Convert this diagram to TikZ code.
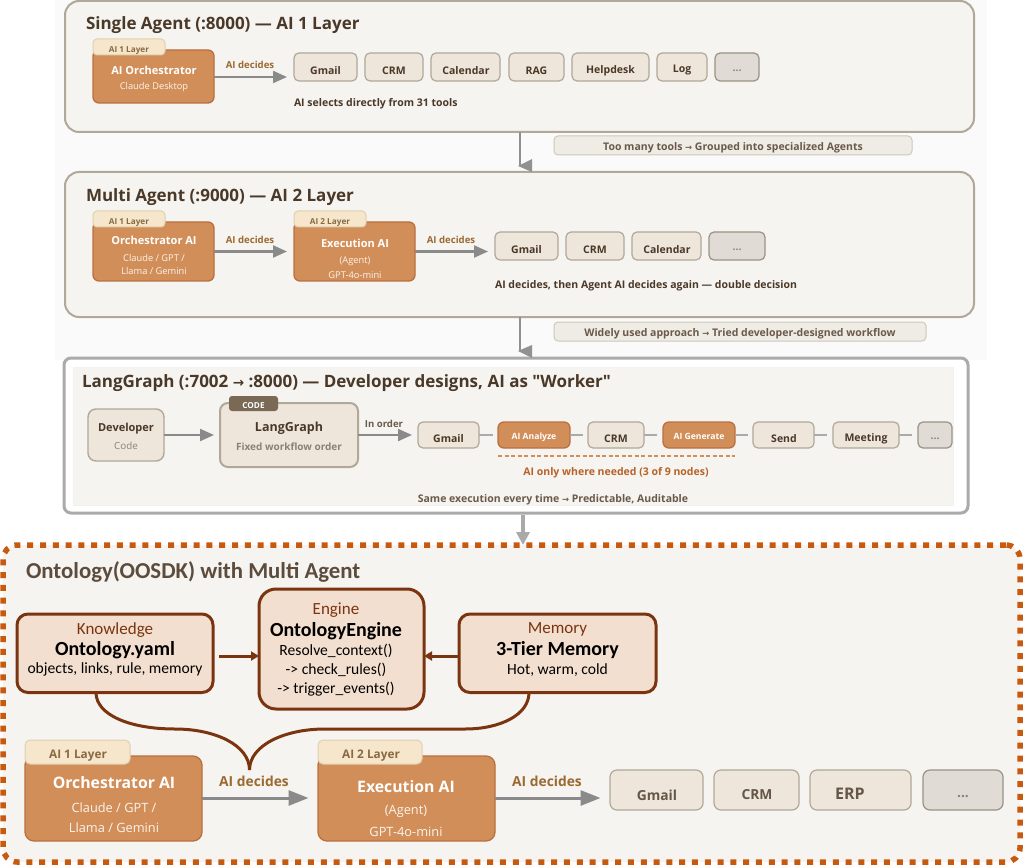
\documentclass[tikz,border=0pt]{standalone}
\usepackage{fontspec}
\setmainfont{Open Sans}
\newfontfamily\calfont{Carlito}
\newfontfamily\arrowfont{DejaVu Sans}
\newfontfamily\plainfont{Open Sans}
\newcommand{\arr}{\scalebox{.8}{\arrowfont\char"2192}}
\newcommand{\sq}{{\plainfont"}}
\usetikzlibrary{arrows.meta}
\definecolor{panel}{HTML}{F6F4F0}
\definecolor{panelb}{HTML}{B0A898}
\definecolor{orange}{HTML}{D28E58}
\definecolor{orangeb}{HTML}{B87040}
\definecolor{tabf}{HTML}{F5E6CC}
\definecolor{tabb}{HTML}{E0D0B0}
\definecolor{tabt}{HTML}{8A6A40}
\definecolor{tool}{HTML}{EEE6DA}
\definecolor{more}{HTML}{E0DBD4}
\definecolor{moreb}{HTML}{9A9284}
\definecolor{dark}{HTML}{4A3828}
\definecolor{arrowc}{HTML}{8A8A8A}
\definecolor{decide}{HTML}{9A6A30}
\definecolor{pill}{HTML}{EFEBE5}
\definecolor{pillb}{HTML}{D0C8B8}
\definecolor{pillt}{HTML}{6A5A4A}
\definecolor{brown}{HTML}{7A3510}
\definecolor{peach}{HTML}{F3DFCF}
\definecolor{dots}{HTML}{C85A10}
\definecolor{lgb}{HTML}{AAAAAA}
\definecolor{codef}{HTML}{7A6A55}
\definecolor{grayt}{HTML}{8A8278}
\definecolor{rust}{HTML}{B8622A}
\newcommand{\bx}[7][]{% name x1 y1 x2 y2 style
  \node[#6,minimum width=#4-#2,minimum height=#5-#3,#1] (#7) at ({(#2+#4)/2},{(#3+#5)/2}) {};}
\tikzset{
  x=1pt,y=-1pt,
  every node/.style={inner sep=0pt,outer sep=0pt,align=center},
  panelbox/.style={draw=panelb,fill=panel,line width=2pt,rounded corners=14pt},
  aibox/.style={draw=orangeb,fill=orange,line width=1.3pt,rounded corners=6pt},
  tabbox/.style={draw=tabb,fill=tabf,line width=1pt,rounded corners=4pt},
  toolbox/.style={draw=panelb,fill=tool,line width=1.2pt,rounded corners=5pt},
  morebox/.style={draw=moreb,fill=more,line width=1.2pt,rounded corners=5pt},
  pillbox/.style={draw=pillb,fill=pill,line width=1pt,rounded corners=4pt},
  peachbox/.style={draw=brown,fill=peach,line width=3pt,rounded corners=11pt},
  flow/.style={draw=arrowc,line width=2.2pt,-{Triangle[length=14pt,width=12pt]},shorten >=7pt},
  flowb/.style={draw=arrowc,line width=3pt,-{Triangle[length=20pt,width=15pt]},shorten >=9.5pt},
  down/.style={draw=lgb!85!black,line width=2pt},
  link/.style={draw=lgb,line width=1.2pt},
  brownarr/.style={draw=brown,line width=3pt,-{Triangle[length=8pt,width=9pt]}},
  brownc/.style={draw=brown,line width=3pt},
  tx/.style={yshift=-1.4pt},
  t/.style={tx,font=\bfseries\fontsize{10.5}{12}\selectfont,text=dark},
  dec/.style={tx,font=\bfseries\fontsize{9.6}{11}\selectfont,text=decide},
  tb/.style={tx,font=\bfseries\fontsize{8.2}{9}\selectfont,text=tabt},
  wh/.style={tx,font=\bfseries\fontsize{11}{12}\selectfont,text=white},
  ws/.style={tx,font=\fontsize{9.3}{11}\selectfont,text=white!90!orange},
  title/.style={font=\bfseries\fontsize{17}{19}\selectfont,text=dark,anchor=west,yshift=-2pt},
  pt/.style={tx,font=\bfseries\fontsize{10.5}{12}\selectfont,text=pillt},
  kt/.style={tx,font=\calfont\fontsize{17}{20}\selectfont,text=brown},
  kb/.style={tx,font=\calfont\bfseries\fontsize{20}{23}\selectfont,text=black},
  ks/.style={tx,font=\calfont\fontsize{15.6}{19}\selectfont,text=black},
  wh2/.style={tx,font=\bfseries\fontsize{15.8}{17}\selectfont,text=white},
  ws2/.style={tx,font=\fontsize{12.8}{15}\selectfont,text=white!90!orange},
  tb2/.style={tx,font=\bfseries\fontsize{11.8}{13}\selectfont,text=tabt},
  dec2/.style={tx,font=\bfseries\fontsize{13.8}{15}\selectfont,text=decide},
  t2/.style={tx,font=\bfseries\fontsize{13.8}{15}\selectfont,text=dark!85!white},
}
\begin{document}
\begin{tikzpicture}
\useasboundingbox (0,0) rectangle (1024,866);
\fill[white] (0,0) rectangle (1024,866);
\fill[black!2] (55,0) rectangle (987,360);

% ---- panel 1
\bx{65}{1}{974}{132}{panelbox}{p1}
\node[title] (t1) at (86,23) {Single Agent (:8000) — AI 1 Layer};
\bx{93}{50}{214}{103}{aibox}{o1}
\bx{93}{39}{165}{55}{tabbox}{o1tab}
\node[tb] (o1tabt) at (129,49) {AI 1 Layer};
\node[wh] (o1a) at (154,69) {AI Orchestrator};
\node[ws] (o1b) at (154,85.5) {Claude Desktop};
\bx{294}{53}{357}{81}{toolbox}{a1}
\bx{365}{53}{423}{81}{toolbox}{a2}
\bx{431}{53}{500}{81}{toolbox}{a3}
\bx{509}{53}{564}{81}{toolbox}{a4}
\bx{572}{53}{649}{81}{toolbox}{a5}
\bx{657}{53}{707}{81}{toolbox}{a6}
\bx{715}{53}{759}{81}{morebox}{a7}
\node[t] at (325.5,69) {Gmail};
\node[t] at (394,69) {CRM};
\node[t] at (466,69) {Calendar};
\node[t] at (536.5,69) {RAG};
\node[t] at (610.5,69) {Helpdesk};
\node[t] at (682,69) {Log};
\node[t,text=grayt] at (737,69) {...};
\draw[flow] (o1.east|-0,77) -- (a1.west|-0,77);
\node[dec] at (250,64) {AI decides};
\node[t,anchor=west] at (294,102) {AI selects directly from 31 tools};

% ---- panel 2
\bx{65}{172}{974}{317}{panelbox}{p2}
\node[title] (t2) at (86,195) {Multi Agent (:9000) — AI 2 Layer};
\bx{93}{222}{214}{281}{aibox}{o2}
\bx{93}{211}{165}{227}{tabbox}{o2tab}
\node[tb] at (129,221) {AI 1 Layer};
\node[wh] at (154,239) {Orchestrator AI};
\node[ws] at (154,257) {Claude / GPT /};
\node[ws] at (154,270) {Llama / Gemini};
\bx{294}{222}{415}{281}{aibox}{e2}
\bx{294}{211}{366}{227}{tabbox}{e2tab}
\node[tb] at (330,221) {AI 2 Layer};
\node[wh] at (355,242) {Execution AI};
\node[ws] at (355,260) {(Agent)};
\node[ws] at (355,273.5) {GPT-4o-mini};
\bx{495}{232}{558}{260}{toolbox}{b1}
\bx{566}{232}{624}{260}{toolbox}{b2}
\bx{632}{232}{701}{260}{toolbox}{b3}
\bx{709}{232}{765}{260}{morebox}{b4}
\node[t] at (526.5,248) {Gmail};
\node[t] at (595,248) {CRM};
\node[t] at (667,248) {Calendar};
\node[t,text=grayt] at (737,248) {...};
\draw[flow] (o2.east|-0,251.5) -- (e2.west|-0,251.5);
\draw[flow] (e2.east|-0,251.5) -- (b1.west|-0,251.5);
\node[dec] at (250,239) {AI decides};
\node[dec] at (451,239) {AI decides};
\node[t,anchor=west] at (495,284) {AI decides, then Agent AI decides again — double decision};

% ---- pills
\bx{554}{136}{912}{155}{pillbox}{n1}
\node[pt] at (733,146) {Too many tools \arr{} Grouped into specialized Agents};
\bx{554}{322}{926}{341}{pillbox}{n2}
\node[pt] at (740,332) {Widely used approach \arr{} Tried developer-designed workflow};

% ---- panel 3
\bx{64}{358}{968}{513}{draw=lgb,fill=white,line width=3pt,rounded corners=7pt}{p3}
\bx{73}{367}{953}{505}{fill=panel,draw=white!95!black,line width=.5pt}{p3in}
\node[title] (t3) at (82,381) {LangGraph (:7002 \arr{} :8000) — Developer designs, AI as \sq Worker\sq};
\bx{88}{409}{164}{461}{draw=panelb,fill=tool,line width=1.4pt,rounded corners=8pt}{dev}
\node[t,font=\bfseries\fontsize{11}{12}\selectfont] at (126,427) {Developer};
\node[t,font=\fontsize{9.8}{11}\selectfont,text=grayt] at (126,444) {Code};
\bx{220}{403}{358}{467}{draw=panelb,fill=tool,line width=2pt,rounded corners=8pt}{lg}
\bx{229}{396}{278}{411}{fill=codef,rounded corners=3pt}{code}
\node[tx,font=\bfseries\fontsize{8.2}{9}\selectfont,text=white] at (253.5,404) {CODE};
\node[t,font=\bfseries\fontsize{12.5}{14}\selectfont] at (289,427) {LangGraph};
\node[t,font=\fontsize{10}{11}\selectfont\bfseries,text=grayt] at (289,445) {Fixed workflow order};
\bx{418}{422}{479}{448}{toolbox}{c1}
\bx{498}{422}{570}{448}{aibox}{c2}
\bx{588}{422}{644}{448}{toolbox}{c3}
\bx{663}{422}{735}{448}{aibox}{c4}
\bx{753}{422}{814}{448}{toolbox}{c5}
\bx{833}{422}{899}{448}{toolbox}{c6}
\bx{918}{422}{952}{448}{morebox}{c7}
\draw[flow,shorten >=6pt] (dev.east|-0,435) -- (lg.west|-0,435);
\draw[flow,shorten >=6pt] (lg.east|-0,435) -- (c1.west|-0,435);
\node[t,text=pillt,font=\bfseries\fontsize{9.6}{11}\selectfont] at (384,422) {In order};
\node[t] at (448.5,437) {Gmail};
\node[tx,font=\bfseries\fontsize{8.6}{10}\selectfont,text=white] at (534,435.5) {AI Analyze};
\node[t] at (616,437) {CRM};
\node[tx,font=\bfseries\fontsize{8.6}{10}\selectfont,text=white] at (699,435.5) {AI Generate};
\node[t] at (784,437) {Send};
\node[t] at (866,437) {Meeting};
\node[t,text=grayt] at (935,437) {...};
\draw[link] (c1.east|-0,435) -- ++(13.5,0);
\draw[link] (c2.east|-0,435) -- ++(13,0);
\draw[link] (c3.east|-0,435) -- ++(13,0);
\draw[link] (c4.east|-0,435) -- ++(13,0);
\draw[link] (c5.east|-0,435) -- ++(13,0);
\draw[link] (c6.east|-0,435) -- ++(13,0);
\draw[draw=orange,line width=1.2pt,dash pattern=on 4pt off 2.5pt] (c2.west|-0,456) -- (c4.east|-0,456);
\node[t,text=rust] at (616,471) {AI only where needed (3 of 9 nodes)};
\node[t,text=pillt] at (553,498) {Same execution every time \arr{} Predictable, Auditable};

% ---- panel 4
\bx{3}{545}{1020}{862}{draw=dots,fill=panel,line width=5.5pt,dash pattern=on 6pt off 6.8pt,rounded corners=14pt}{p4}
\node[anchor=west,yshift=-1.5pt,font=\calfont\bfseries\fontsize{22.8}{25}\selectfont,text=dark!90!white] (t4) at (26,570) {Ontology(OOSDK) with Multi Agent};

% inter-panel arrows
\coordinate (d1) at (519.5,132);
\draw[down] (p1.south-|d1) -- (519.5,166);
\fill[lgb!85!black] (518,166) -- (532,159) -- (532,172) -- cycle;
\coordinate (d2) at (519.5,317);
\draw[down] (p2.south-|d2) -- (519.5,351);
\fill[lgb!85!black] (518,351) -- (532,345) -- (532,358) -- cycle;
\coordinate (d3) at (523,515);
\draw[draw=lgb,line width=4pt,-{Triangle[length=13pt,width=13pt]}] (d3) -- (p4.north-|d3);

\bx{17}{614}{213}{692.5}{peachbox}{k}
\node[kt] at (115,628.5) {Knowledge};
\node[kb] at (115,649) {Ontology.yaml};
\node[ks] at (115,668.5) {objects, links, rule, memory};
\bx{259}{589}{424}{709}{peachbox,rounded corners=17pt}{en}
\node[kt] at (336,609) {Engine};
\node[kb] at (336,630) {OntologyEngine};
\node[ks] at (336,649.5) {Resolve\_context()};
\node[ks] at (336,668.5) {-> check\_rules()};
\node[ks] at (336,687.5) {-> trigger\_events()};
\bx{459}{614}{656}{692.5}{peachbox}{m}
\node[kt] at (557.5,628.5) {Memory};
\node[kb] at (557.5,649) {3-Tier Memory};
\node[ks] at (557.5,668.5) {Hot, warm, cold};
\coordinate (karr) at (219,656);
\draw[brownarr] (karr) -- (en.west|-0,656);
\draw[brownarr] (m.west|-0,656) -- (en.east|-0,656);
\coordinate (j) at (249.5,770);
\draw[brownc] (k.south-|96,0) .. controls (96,715) and (130,729) .. (175,729) .. controls (215,729) and (249.5,745) .. (j);
\draw[brownc] (m.south-|529,0) .. controls (529,715) and (500,729) .. (465,729) -- (325,729) .. controls (285,729) and (249.5,745) .. (j);

% bottom row
\bx{25}{756}{202}{841}{aibox,rounded corners=9pt}{o4}
\bx{25}{740}{130}{764}{tabbox,rounded corners=5pt}{o4tab}
\node[tb2] at (78,754) {AI 1 Layer};
\node[wh2] at (114,781) {Orchestrator AI};
\node[ws2] at (114,806) {Claude / GPT /};
\node[ws2] at (114,826) {Llama / Gemini};
\bx{318}{756}{495}{841}{aibox,rounded corners=9pt}{e4}
\bx{318}{740}{422}{764}{tabbox,rounded corners=5pt}{e4tab}
\node[tb2] at (371,754) {AI 2 Layer};
\node[wh2] at (406,785) {Execution AI};
\node[ws2] at (406,810) {(Agent)};
\node[ws2] at (406,830) {GPT-4o-mini};
\bx{610}{770}{703}{810}{toolbox,rounded corners=7pt}{d1b}
\bx{714}{770}{799}{810}{toolbox,rounded corners=7pt}{d2b}
\bx{810}{770}{911}{810}{toolbox,rounded corners=7pt}{d3b}
\bx{923}{770}{1003}{810}{morebox,rounded corners=7pt}{d4b}
\node[t2] at (657,793.5) {Gmail};
\node[t2] at (757,793.5) {CRM};
\node[t2,font=\bfseries\fontsize{16}{18}\selectfont] at (850,792) {ERP};
\node[t2,text=grayt] at (963,795) {...};
\draw[flowb] (o4.east|-0,798) -- (e4.west|-0,798);
\draw[flowb] (e4.east|-0,798) -- (d1b.west|-0,798);
\node[dec2] at (254,780) {AI decides};
\node[dec2] at (547,780) {AI decides};
\end{tikzpicture}
\end{document}
